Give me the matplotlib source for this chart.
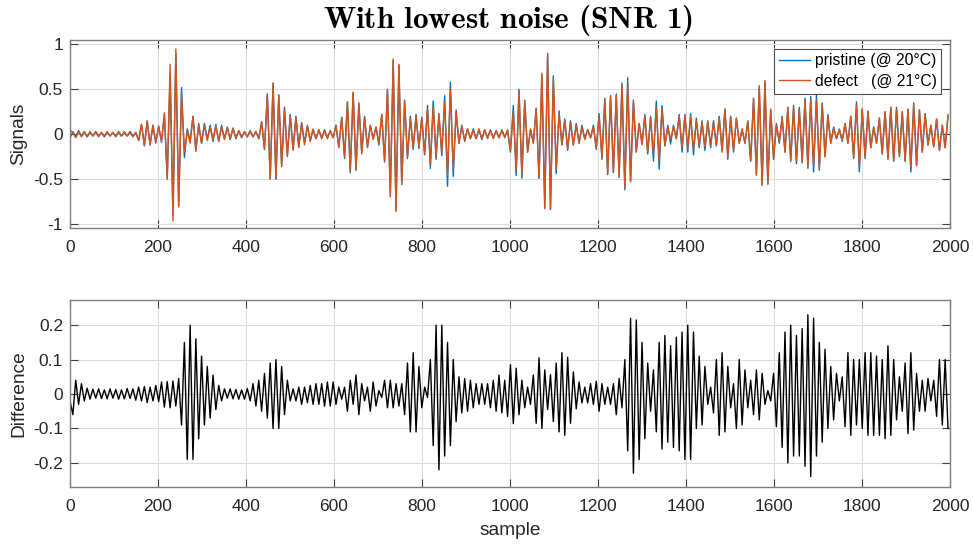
import numpy as np
import matplotlib
matplotlib.use("Agg")
import matplotlib.pyplot as plt

# ---------------- data (successive extrema) ----------------
half_period = 6.5          # samples between successive extrema

pristine = [
    -0.04, 0.03, -0.03, 0.04, -0.02, 0.03, -0.03, 0.02, -0.02, 0.03, -0.02, 0.02,
    -0.03, 0.02, -0.02, 0.02, -0.02, 0.03, -0.02, 0.02, -0.02, 0.03, -0.02, 0.02,
    -0.07, 0.11, -0.13, 0.15, -0.12, 0.10, -0.10, 0.09, -0.09,
    0.22, -0.50, 0.65, -0.90, 0.90, -0.80, 0.52, -0.26,
    0.06, -0.08, 0.20, -0.19, 0.12, -0.10, 0.12, -0.06, 0.10, -0.08, 0.11, -0.08, 0.10,
    -0.05, 0.08, -0.06, 0.07, -0.05, 0.04, -0.04, 0.03, -0.03, 0.04, -0.03, 0.03,
    -0.05, 0.14, -0.17, 0.45, -0.50, 0.57, -0.50, 0.44, -0.36, 0.30, -0.24, 0.22, -0.17,
    0.20, -0.14, 0.13, -0.10, 0.10, -0.07, 0.05, -0.05, 0.05, -0.04, 0.05, -0.04, 0.04, -0.04,
    0.10, -0.15, 0.19, -0.27, 0.36, -0.43, 0.46, -0.40, 0.35, -0.20,
    0.20, -0.14, 0.10, -0.05, 0.08, -0.12, 0.22, -0.31, 0.50, -0.68,
    0.82, -0.85, 0.77, -0.56, 0.38, -0.27, 0.20, -0.17, 0.22, -0.16,
    0.19, -0.23, 0.32, -0.38, 0.37, -0.28, 0.23, -0.24, 0.43, -0.58,
    0.58, -0.47, 0.27, -0.10, 0.10, -0.08, 0.06, -0.05, 0.06, -0.05,
    0.05, -0.06, 0.05, -0.04, 0.05, -0.04, 0.04, -0.04, 0.05, -0.03, 0.04,
    -0.20, 0.32, -0.46, 0.50, -0.49, 0.38, -0.20, 0.05, -0.10, 0.29,
    -0.49, 0.66, -0.82, 0.90, -0.84, 0.65, -0.44, 0.26, -0.12, 0.17,
    -0.18, 0.15, -0.12, 0.12, -0.10, 0.10, -0.05, 0.05, -0.04, 0.10,
    -0.17, 0.23, -0.28, 0.40, -0.45, 0.43, -0.43, 0.45, -0.48, 0.57,
    -0.62, 0.63, -0.53, 0.38, -0.20, 0.12, -0.10, 0.22, -0.22, 0.20,
    -0.30, 0.37, -0.39, 0.32, -0.13, 0.10, -0.11, 0.10, -0.05, 0.22,
    -0.20, 0.22, -0.20, 0.23, -0.23, 0.18, -0.15, 0.15, -0.18, 0.15,
    -0.15, 0.15, -0.13, 0.20, -0.18, 0.28, -0.28,
    0.20, -0.20, 0.18, -0.10, 0.05, -0.10, 0.15, -0.30, 0.40, -0.45,
    0.53, -0.56, 0.58, -0.55, 0.27, -0.28, 0.12, -0.10, 0.20, -0.20,
    0.30, -0.30, 0.32, -0.33, 0.30, -0.32, 0.40, -0.38, 0.42, -0.42,
    0.44, -0.40, 0.35, -0.25, 0.22, -0.10, 0.08, -0.05, 0.05, -0.08,
    0.12, -0.10, 0.20, -0.27, 0.36, -0.42, 0.28, -0.27, 0.26, -0.15,
    0.08, -0.10, 0.18, -0.22, 0.25, -0.28, 0.30, -0.30, 0.30, -0.25,
    0.25, -0.30, 0.28, -0.42, 0.35, -0.35, 0.27, -0.20, 0.23, -0.12,
    0.10, -0.14, 0.17, -0.18, 0.10, -0.15, 0.20,
]

defect = [
    0.05, 0.02, -0.04, 0.03, -0.03, 0.02, -0.02, 0.03, -0.02, 0.02, -0.03, 0.02,
    -0.02, 0.03, -0.02, 0.02, -0.03, 0.02, -0.02, 0.03, -0.02, 0.02, -0.03, 0.02,
    -0.07, 0.11, -0.12, 0.14, -0.12, 0.10, -0.09, 0.09, -0.08,
    0.24, -0.50, 0.78, -0.97, 0.95, -0.81, 0.45, -0.20,
    0.03, -0.10, 0.20, -0.18, 0.10, -0.10, 0.10, -0.07, 0.08, -0.06, 0.09, -0.08, 0.08,
    -0.06, 0.07, -0.05, 0.06, -0.04, 0.04, -0.03, 0.03, -0.03, 0.03, -0.03, 0.03,
    -0.05, 0.13, -0.16, 0.44, -0.50, 0.57, -0.50, 0.43, -0.35, 0.28, -0.25, 0.20, -0.18,
    0.18, -0.15, 0.12, -0.12, 0.09, -0.08, 0.06, -0.05, 0.05, -0.05, 0.04, -0.05, 0.04, -0.04,
    0.10, -0.14, 0.18, -0.25, 0.36, -0.41, 0.47, -0.40, 0.33, -0.22,
    0.18, -0.15, 0.10, -0.06, 0.08, -0.10, 0.22, -0.30, 0.50, -0.70,
    0.84, -0.86, 0.78, -0.55, 0.36, -0.25, 0.18, -0.15, 0.20, -0.14,
    0.18, -0.22, 0.28, -0.33, 0.31, -0.25, 0.22, -0.20, 0.36, -0.45,
    0.50, -0.38, 0.24, -0.10, 0.09, -0.07, 0.06, -0.05, 0.05, -0.05,
    0.06, -0.05, 0.05, -0.05, 0.04, -0.05, 0.04, -0.04, 0.04, -0.04, 0.05,
    -0.18, 0.25, -0.40, 0.48, -0.44, 0.36, -0.20, 0.06, -0.10, 0.28,
    -0.49, 0.68, -0.83, 0.89, -0.84, 0.62, -0.38, 0.22, -0.12, 0.15,
    -0.16, 0.13, -0.12, 0.10, -0.10, 0.08, -0.06, 0.05, -0.04, 0.08,
    -0.15, 0.20, -0.26, 0.38, -0.43, 0.42, -0.42, 0.43, -0.47, 0.55,
    -0.60, 0.55, -0.52, 0.36, -0.18, 0.12, -0.12, 0.20, -0.20, 0.18,
    -0.22, 0.30, -0.30, 0.28, -0.13, 0.08, -0.06, 0.08, -0.05, 0.20,
    -0.15, 0.20, -0.15, 0.20, -0.18, 0.15, -0.12, 0.13, -0.14, 0.14,
    -0.12, 0.13, -0.12, 0.18, -0.20, 0.28, -0.25,
    0.20, -0.18, 0.18, -0.10, 0.06, -0.10, 0.14, -0.30, 0.40, -0.46,
    0.54, -0.57, 0.60, -0.56, 0.28, -0.27, 0.10, -0.08, 0.18, -0.20,
    0.30, -0.30, 0.30, -0.30, 0.28, -0.30, 0.38, -0.36, 0.38, -0.36,
    0.38, -0.38, 0.33, -0.25, 0.20, -0.10, 0.07, -0.05, 0.06, -0.07,
    0.12, -0.10, 0.20, -0.25, 0.33, -0.36, 0.28, -0.25, 0.24, -0.15,
    0.08, -0.10, 0.18, -0.22, 0.25, -0.27, 0.30, -0.30, 0.28, -0.25,
    0.25, -0.30, 0.28, -0.36, 0.33, -0.35, 0.27, -0.20, 0.22, -0.12,
    0.10, -0.14, 0.17, -0.18, 0.10, -0.15, 0.22,
]

difference = [
    -0.02, -0.06, 0.04, -0.03, 0.03, -0.02, 0.017,
    -0.015, 0.014, -0.012, 0.015, -0.013, 0.012, -0.014, 0.015, -0.012, 0.013,
    -0.015, 0.012, -0.014, 0.016, -0.013, 0.015, -0.018, 0.02,
    -0.02, 0.022, -0.025, 0.02, -0.02, 0.025, -0.022,
    0.035, -0.038, 0.036, -0.04, 0.038, -0.035, 0.045,
    -0.09, 0.15, -0.19, 0.20, -0.19, 0.16, -0.13, 0.11, -0.09, 0.08, -0.07,
    0.055, -0.045, 0.025, -0.02,
    0.015, -0.012, 0.015, -0.014, 0.013, -0.015, 0.012, -0.015, 0.016,
    -0.02, 0.03, -0.035, 0.04,
    -0.05, 0.06, -0.07, 0.09, -0.10, 0.10, -0.10, 0.08, -0.06, 0.04, -0.02,
    0.015, -0.02, 0.02, -0.03, 0.02, -0.025, 0.025, -0.03, 0.03, -0.03,
    0.03, -0.035, 0.035, -0.035, 0.035, -0.03, 0.02, -0.015, 0.02,
    -0.05, 0.04, -0.03, 0.055, -0.06, 0.03, -0.02, 0.02, -0.05, 0.035,
    -0.035, 0.01, -0.01, 0.04, -0.04, 0.04, -0.04, 0.03, -0.035, 0.03,
    -0.06, 0.09, -0.11, 0.12, -0.11, 0.08, -0.04, 0.02, -0.01, 0.10,
    -0.15, 0.20, -0.22, 0.20, -0.18, 0.15, -0.15, 0.10, -0.08, 0.05,
    -0.055, 0.045, -0.05, 0.04, -0.04, 0.03, -0.03, 0.03, -0.03, 0.03,
    -0.04, 0.04, -0.05, 0.055, -0.055,
    0.04, -0.065, 0.085, -0.086, 0.075, -0.06, 0.04, -0.04, 0.02, -0.03,
    0.055, -0.085, 0.105, -0.10, 0.07, -0.045, 0.056, -0.08, 0.09, -0.11,
    0.12, -0.12, 0.107, -0.085, 0.064, -0.043, 0.035, -0.026, 0.02, -0.026,
    0.03, -0.03, 0.037, -0.05, 0.03, -0.03, 0.02, -0.03, 0.03, -0.06,
    0.045, -0.04, 0.10, -0.165, 0.22, -0.23, 0.215, -0.19, 0.15, -0.13,
    0.09, -0.05, 0.07, -0.11, 0.15, -0.16, 0.17, -0.14, 0.14, -0.155,
    0.165, -0.165, 0.18, -0.19, 0.20, -0.19, 0.18, -0.10, 0.11, -0.09,
    0.08, -0.03, 0.02, -0.055, 0.10, -0.12, 0.12, -0.11, 0.08,
    -0.04, 0.03, -0.10, 0.10, -0.09, 0.07, -0.04, 0.04, -0.06, 0.07,
    -0.075, 0.06, -0.03, 0.01, -0.02, 0.06, -0.095, 0.12, -0.155, 0.18,
    -0.20, 0.20, -0.18, 0.17, -0.18, 0.19, -0.21, 0.23, -0.24, 0.22,
    -0.18, 0.15, -0.14, 0.13, -0.10, 0.08, -0.075, 0.06, -0.02, 0.05,
    -0.095, 0.12, -0.12, 0.10, -0.09, 0.10, -0.10, 0.12, -0.12, 0.12,
    -0.12, 0.11, -0.12, 0.10, -0.13, 0.14, -0.12, 0.10, -0.075, 0.05,
    -0.05, 0.09, -0.115, 0.12, -0.105, 0.06, -0.05, 0.04, -0.05, 0.045,
    -0.02, 0.04, -0.065, 0.10, -0.09, 0.10, -0.10,
]

top_yticks = [-1, -0.5, 0, 0.5, 1]
top_yticklabels = ["-1", "-0.5", "0", "0.5", "1"]
bot_yticks = [-0.2, -0.1, 0, 0.1, 0.2]
bot_yticklabels = ["-0.2", "-0.1", "0", "0.1", "0.2"]
xticks = [0, 200, 400, 600, 800, 1000, 1200, 1400, 1600, 1800, 2000]
series_labels = ["pristine (@ 20°C)", "defect   (@ 21°C)"]
title_text = r"$\mathbf{With\ lowest\ noise\ (SNR\ 1)}$"

# ---------------- style ----------------
plt.rcParams["font.family"] = ["Liberation Sans", "DejaVu Sans"]
plt.rcParams["mathtext.fontset"] = "custom"
plt.rcParams["mathtext.bf"] = "cmb10"
plt.rcParams["mathtext.rm"] = "cmr10"
plt.rcParams["axes.unicode_minus"] = False

BLUE = "#0072BD"
ORANGE = "#D95319"
AX_COL = "#808080"
TICK_FS = 12.5

fig = plt.figure(figsize=(9.73, 5.44), dpi=100)
fig.patch.set_facecolor("white")

ax1 = fig.add_axes([70 / 973, 1 - 228 / 544, 880 / 973, 188 / 544])
ax2 = fig.add_axes([70 / 973, 1 - 487 / 544, 880 / 973, 187 / 544])


def style(ax):
    for s in ax.spines.values():
        s.set_color(AX_COL)
        s.set_linewidth(1.0)
    ax.tick_params(direction="in", length=6, width=0.8, color="#404040",
                   top=True, right=True, labelsize=TICK_FS, labelcolor="#262626")
    ax.tick_params(axis="x", pad=8.5)
    ax.tick_params(axis="y", pad=5)
    ax.grid(True, color="#dcdcdc", linewidth=0.8)
    ax.set_axisbelow(True)
    ax.set_xlim(0, 2000)
    ax.set_xticks(xticks)
    ax.set_xticklabels([str(t) for t in xticks])


x_top = np.arange(len(pristine)) * half_period
x_def = np.arange(len(defect)) * half_period
x_dif = np.arange(len(difference)) * half_period

ax1.plot(x_top, pristine, color=BLUE, lw=1.0, label=series_labels[0])
ax1.plot(x_def, defect, color=ORANGE, lw=1.0, label=series_labels[1])
style(ax1)
ax1.set_ylim(-1.045, 1.05)
ax1.set_yticks(top_yticks)
ax1.set_yticklabels(top_yticklabels)
ax1.set_ylabel("Signals", fontsize=13.75, color="#262626", labelpad=4)
fig.text(508 / 973, 1 - 20 / 544, title_text, fontsize=22.5, ha="center", va="center")
leg = ax1.legend(loc="upper right", fontsize=11.3, frameon=True, fancybox=False,
                 edgecolor="#262626", borderpad=0.3, handlelength=2.0,
                 handletextpad=0.3, labelspacing=0.35, borderaxespad=0.55)
leg.get_frame().set_linewidth(0.8)

ax2.plot(x_dif, difference, color="black", lw=1.0)
style(ax2)
ax2.set_ylim(-0.27, 0.273)
ax2.set_yticks(bot_yticks)
ax2.set_yticklabels(bot_yticklabels)
ax2.set_ylabel("Difference", fontsize=13.75, color="#262626", labelpad=4)
ax2.set_xlabel("sample", fontsize=13.75, color="#262626", labelpad=6)

fig.savefig("out.png", dpi=100, facecolor="white")
